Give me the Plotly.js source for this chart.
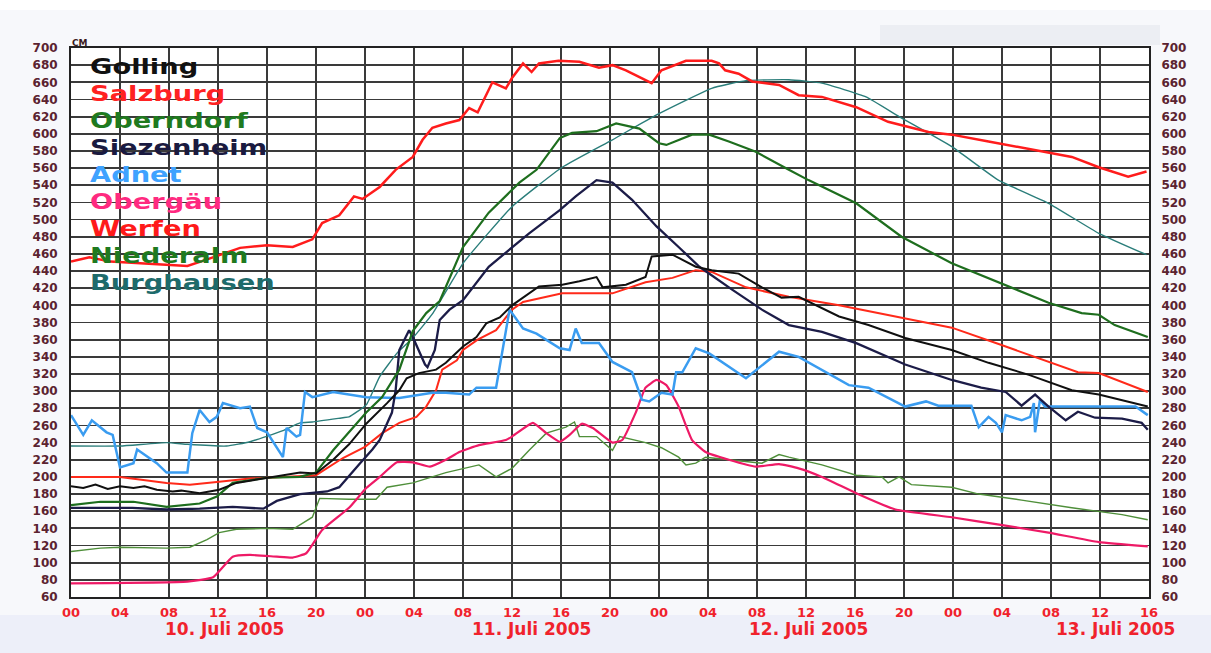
<!DOCTYPE html>
<html>
<head>
<meta charset="utf-8">
<script src="https://cdn.plot.ly/plotly-3.0.1.min.js"></script>
<style>
html,body{margin:0;padding:0;background:#ffffff;}
#chart{width:1211px;height:653px;}
</style>
</head>
<body>
<div id="chart"></div>
<script>
// ---------- DATA (hours since 10 Juli 2005 00:00, water level in cm) ----------
const tickHours = [0,4,8,12,16,20,24,28,32,36,40,44,48,52,56,60,64,68,72,76,80,84,88];
const tickLabels = ['00','04','08','12','16','20','00','04','08','12','16','20','00','04','08','12','16','20','00','04','08','12','16'];
const dayLabels = ['10. Juli 2005','11. Juli 2005','12. Juli 2005','13. Juli 2005'];
const stationNames = ['Golling','Salzburg','Oberndorf','Siezenheim','Adnet','Obergäu','Werfen','Niederalm','Burghausen'];

const gollingH = [0,1,2,3,4,5.1,6,7,8.3,9,10.5,12.1,13.5,16,18.7,20,21.4,22.7,24.1,25.8,26.8,27.4,28.4,29.8,30.6,32,33.1,33.9,35,36,38.2,40.1,41.5,42.9,43.4,45.3,46.9,47.4,49.1,51,52.3,54.5,56.4,58,59.4,62.7,65.1,68.1,71.9,74.9,78.2,81.7,83.9,87.9];
const gollingV = [189,187,191,186,189,187,189,185,183,184,181,185,193,199,205,204,220,238,262,286,301,315,321,325,333,352,363,379,386,400,422,424,428,433,421,424,433,457,459,445,441,437,421,409,410,387,377,362,348,333,319,301,296,282];

const salzburgH = [0,1.5,3.2,6,9.5,11,13.8,16,18.1,19.7,20.5,21.9,23.1,23.8,25.2,26.5,27.9,28.7,29.5,30.6,31.7,32.5,33.2,34.4,35.5,36,36.9,37.6,38.2,39.8,41.5,43.1,44.2,45.3,47.4,48.2,50.2,52.3,52.9,53.4,54.5,55.6,57.8,59.4,61.3,64.1,66.7,70,71.9,74.9,79.8,81.7,83.9,86.3,87.8];
const salzburgV = [451,456,451,449,446,453,467,470,468,477,496,505,527,524,538,558,573,593,607,612,616,630,625,660,653,665,682,672,682,685,684,677,680,674,659,674,685,685,682,674,670,661,657,645,643,631,614,602,599,591,578,573,561,550,556];

const oberndorfH = [0,2.4,5.1,7.8,10.5,11.9,13.2,16,18.7,20,21.4,22.7,24.1,25.4,26.8,27.9,29,30.1,32,34.1,36.6,38,39.9,40.9,42.9,44.5,46.4,48,48.6,50.7,52.1,53.7,55.9,58.6,60.2,64.1,67.8,71.9,75.7,79.8,82.5,83.9,85.2,87.9];
const oberndorfV = [167,171,171,165,169,177,193,199,200,205,231,252,275,293,325,370,391,405,468,508,543,558,595,601,603,612,606,589,587,599,599,591,579,558,546,519,480,449,427,403,391,389,377,363];

const siezenheimH = [0,5,7.8,10.5,13.2,15.7,16.8,18.7,20.9,21.9,23.6,24.6,25.2,26.2,26.5,26.8,27.6,28,28.9,29.1,29.7,30.1,30.9,32,34.1,37.4,39.9,41.2,42.9,44.2,45.8,47.8,49.6,51.3,54,56.4,58.6,61.3,64.1,68.1,71.9,74.3,76.3,77.6,78.7,79.8,81.2,82.2,83.6,85.8,87.4,87.9];
const siezenheimV = [164,164,162,163,165,163,172,180,183,188,216,232,243,275,301,348,371,360,331,328,348,383,395,406,445,484,511,527,546,543,523,492,468,445,418,395,377,369,356,331,313,304,299,283,296,282,266,276,269,268,263,255];

const adnetH = [0,1,1.7,2.9,3.4,4,5.1,5.4,7,7.8,9.5,9.9,10.5,11.3,11.9,12.4,13.8,14.6,15.2,16,17.3,17.6,18.4,18.7,19.1,19.7,21.4,22.7,24.1,26.8,29.5,30.6,32.5,33.1,34.7,35.8,36,36.9,38,39.9,40.7,41.2,41.7,43.1,44.2,45.8,46.6,47.2,48.2,49.1,49.4,49.9,51,52.1,55.1,57.8,59.4,61.3,63.5,65.1,66.7,68.1,69.8,70.8,73.5,74.1,74.9,75.5,76,76.3,77.6,78.3,78.6,78.7,79.1,79.5,85.8,86.9,87.9];
const adnetV = [272,249,266,252,249,211,216,232,216,205,205,251,278,264,270,286,280,282,257,252,223,257,247,249,299,293,299,296,293,292,298,298,296,304,304,395,391,373,367,350,348,373,356,356,334,322,290,288,298,296,322,322,350,344,315,346,340,325,307,304,292,282,288,283,283,258,270,263,252,272,266,270,286,252,290,282,282,282,272];

const oberGaeuH = [0,9.5,11.6,13.2,14.6,16.8,18.1,19.2,20.5,22.7,24.1,25.2,26.6,27.9,29.3,30.6,31.7,33.3,35.5,36,37.7,38.8,39.9,40.7,41.7,42.6,44.2,45,46.1,46.9,47.8,48.6,49.6,50.7,51.8,53.7,55.9,57.8,59.4,61.3,64.1,67.3,71.9,75.9,79.8,83.9,87.9];
const oberGaeuV = [76,78,83,107,109,107,106,111,138,164,187,200,217,217,212,220,229,237,243,247,263,251,241,249,262,257,240,243,275,304,313,307,282,243,229,220,212,215,210,200,181,162,153,144,135,124,119];

const werfenH = [0,4,7.8,9.7,11.9,14.6,17.3,20,22.2,24,25.4,26.8,28.2,29,29.8,30.3,31.5,32,33.2,34.7,36,36.9,40.1,44.2,46.9,49.1,51,52.3,55.1,58.6,62.7,66.7,71.9,75.9,79.8,82.2,83.9,87.9];
const werfenV = [200,200,193,191,194,198,200,202,222,235,251,263,270,282,301,325,336,348,360,371,395,404,414,414,427,432,441,439,421,410,400,389,374,354,334,322,321,299];

const niederalmH = [0,2.4,4,7.8,9.7,11.1,12.1,13.5,16,18.1,19.7,20.3,22.7,24.9,25.8,27.9,30.6,33.3,34.7,36,37.4,38.8,40.4,41.1,41.5,42.9,44.2,44.8,46.9,48.2,49.6,50.2,51,51.8,53.7,56.4,57.8,58.6,61.3,64.1,66.2,66.7,67.6,68.6,71.9,74.1,77.6,81.7,85.8,87.9];
const niederalmV = [113,117,118,117,118,127,135,139,140,139,153,175,174,174,188,193,205,214,200,210,231,251,258,264,247,247,231,247,240,234,223,214,216,223,220,216,226,223,214,202,200,193,200,191,188,180,173,164,156,150];

const burghausenH = [0,4,7.8,9.5,12.7,14.6,17.3,18.7,19.7,22.2,22.7,24.1,25.2,26.6,27.9,29.5,32,36,40.1,44.2,47.8,52.3,55.1,58.6,61.3,64.9,67.6,71.9,75.7,79.8,83.9,87.8];
const burghausenV = [236,236,240,238,236,241,254,263,264,269,270,284,317,344,362,390,449,515,561,593,622,653,662,663,659,643,620,585,546,519,484,459];

// ---------- STYLES ----------
const lineColors = ['#101010','#ff1c1c','#1e6e1e','#1c1c48','#3a9cf0','#ee1a66','#ff2a1a','#4f8f3a','#2a7d7a'];
const lineWidths = [2,2.5,2.2,2.3,2.5,2.2,2,1.4,1.4];
const labelColors = ['#111111','#ff2222','#1f7a1f','#1a1a40','#3fa2ff','#ff2a80','#ff1a1a','#1f7a1f','#1e6b6b'];

const seriesH = [gollingH,salzburgH,oberndorfH,siezenheimH,adnetH,oberGaeuH,werfenH,niederalmH,burghausenH];
const seriesV = [gollingV,salzburgV,oberndorfV,siezenheimV,adnetV,oberGaeuV,werfenV,niederalmV,burghausenV];
const smooth = [false,false,false,false,false,true,false,false,true];

// draw order (back to front)
const order = [8,7,5,6,4,3,2,0,1];
const traces = order.map(i => ({
  type:'scatter', mode:'lines', name:stationNames[i],
  x:seriesH[i], y:seriesV[i],
  line:{color:lineColors[i], width:lineWidths[i], shape: smooth[i] ? 'spline' : 'linear', smoothing:0.4},
  hoverinfo:'skip', showlegend:false
}));
// invisible copy to carry the right-hand axis
traces.push({type:'scatter', mode:'lines', x:salzburgH, y:salzburgV, yaxis:'y2',
  line:{width:0, color:'rgba(0,0,0,0)'}, hoverinfo:'skip', showlegend:false});

const PH = 549; // plot height in px
const legendTop = 67, legendStep = 27;
const annotations = stationNames.map((n,i) => ({
  xref:'paper', yref:'paper', x:0.0155, y:1 - (legendTop - 48 + i*legendStep)/PH,
  xanchor:'left', yanchor:'middle', showarrow:false, text:n,
  font:{family:'DejaVu Sans', size:21, weight:'bold', color:labelColors[i]}
}));
const dayPos = [12.5, 37.6, 60.2, 85.3];
dayLabels.forEach((t,i) => annotations.push({
  xref:'x', yref:'paper', x:dayPos[i], y:-(629-597)/PH, xanchor:'center', yanchor:'middle',
  showarrow:false, text:t, font:{family:'DejaVu Sans', size:17, weight:'bold', color:'#f0222c'}
}));
annotations.push({xref:'paper', yref:'paper', x:-0.001, y:1+(48-43)/PH, xanchor:'left', yanchor:'middle',
  showarrow:false, text:'CM', font:{family:'DejaVu Sans', size:9, weight:'bold', color:'#3a1a20'}});

const yTickFont = {family:'DejaVu Sans', size:12, weight:'bold', color:'#5b2330'};
const layout = {
  width:1211, height:653,
  margin:{l:71, r:62, t:48, b:56, pad:0},
  paper_bgcolor:'#f7f8fb', plot_bgcolor:'#ffffff',
  showlegend:false,
  xaxis:{range:[0,88], tickmode:'array', tickvals:tickHours, ticktext:tickLabels,
    showgrid:true, gridcolor:'#3a3a3a', gridwidth:1.8, zeroline:false,
    showline:true, linecolor:'#222222', linewidth:2, mirror:true,
    ticks:'outside', ticklen:2, tickcolor:'rgba(0,0,0,0)',
    tickfont:{family:'DejaVu Sans', size:13, weight:'bold', color:'#f0222c'}},
  yaxis:{range:[60,700], dtick:20, tick0:60,
    showgrid:true, gridcolor:'#3a3a3a', gridwidth:1.8, zeroline:false,
    showline:true, linecolor:'#222222', linewidth:2, mirror:true,
    ticks:'outside', ticklen:9, tickcolor:'rgba(0,0,0,0)', tickfont:yTickFont},
  yaxis2:{range:[60,700], dtick:20, tick0:60, overlaying:'y', side:'right',
    showgrid:false, zeroline:false, showline:false,
    ticks:'outside', ticklen:9, tickcolor:'rgba(0,0,0,0)', tickfont:yTickFont},
  shapes:[
    {type:'rect', xref:'paper', yref:'paper', x0:-0.07, x1:1.07, y0:-(653-597)/PH - 0.01, y1:-(615-597)/PH,
     fillcolor:'#edeff9', line:{width:0}, layer:'below'},
    {type:'rect', xref:'paper', yref:'paper', x0:-0.07, x1:1.07, y0:1+(48-10)/PH, y1:1+(48)/PH + 0.01,
     fillcolor:'#ffffff', line:{width:0}, layer:'below'},
    {type:'rect', xref:'paper', yref:'paper', x0:(880-71)/1078, x1:(1160-71)/1078, y0:1+(48-45)/PH, y1:1+(48-25)/PH,
     fillcolor:'#eceef3', line:{width:0}, layer:'below'}
  ],
  annotations:annotations
};

Plotly.newPlot('chart', traces, layout, {displayModeBar:false, staticPlot:true}).then(gd => {
  // widen the legend lettering like the original's stretched type
  const stretch = 1.3;
  stationNames.forEach((n,i) => {
    const t = gd.querySelector('g.annotation[data-index="' + i + '"] text.annotation-text');
    if (!t) return;
    const bb = t.getBBox();
    t.setAttribute('transform', 'translate(' + bb.x + ',0) scale(' + stretch + ',1) translate(' + (-bb.x) + ',0)');
  });
});
</script>
</body>
</html>
